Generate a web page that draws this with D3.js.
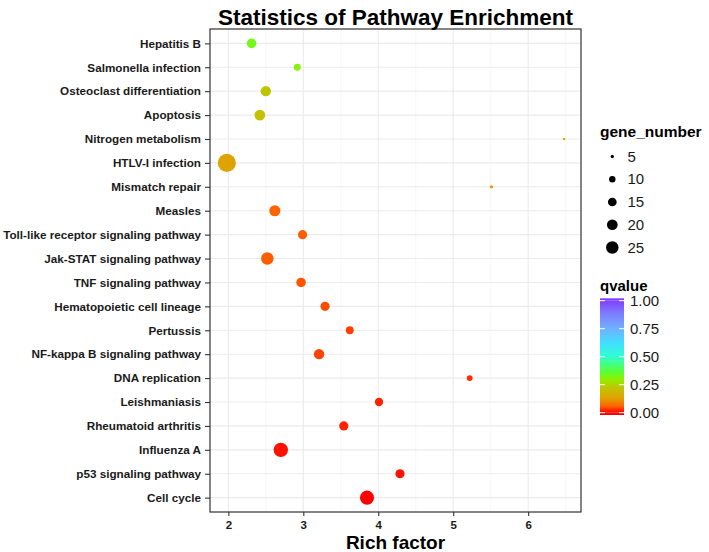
<!DOCTYPE html>
<html>
<head>
<meta charset="utf-8">
<script src="https://cdn.jsdelivr.net/npm/d3@7"></script>
<style>
  html, body { margin: 0; padding: 0; background: #fff; }
  svg { display: block; font-family: "Liberation Sans", Arial, Helvetica, sans-serif; }
</style>
</head>
<body>
<svg id="chart" width="709" height="552"></svg>
<script>
// ---- data ----
const pathways = [
  "Hepatitis B", "Salmonella infection", "Osteoclast differentiation", "Apoptosis",
  "Nitrogen metabolism", "HTLV-I infection", "Mismatch repair", "Measles",
  "Toll-like receptor signaling pathway", "Jak-STAT signaling pathway", "TNF signaling pathway",
  "Hematopoietic cell lineage", "Pertussis", "NF-kappa B signaling pathway", "DNA replication",
  "Leishmaniasis", "Rheumatoid arthritis", "Influenza A", "p53 signaling pathway", "Cell cycle"
];
const richFactor = [2.31, 2.92, 2.50, 2.42, 6.48, 1.98, 5.51, 2.62, 2.99, 2.52, 2.97,
                    3.29, 3.62, 3.21, 5.22, 4.01, 3.54, 2.70, 4.29, 3.85];
const geneNumber = [17, 11, 19, 20, 4, 45, 5, 21, 16, 25, 17, 16, 13, 19, 9, 14, 16, 31, 16, 30];
const qvalue = [0.33, 0.31, 0.22, 0.21, 0.14, 0.13, 0.12, 0.06, 0.055, 0.055, 0.05,
                0.045, 0.038, 0.04, 0.025, 0.02, 0.02, 0.01, 0.01, 0.001];
const xTicks = [2, 3, 4, 5, 6];
const sizeBreaks = [5, 10, 15, 20, 25];
const qBreaks = [0, 0.25, 0.5, 0.75, 1];

const data = pathways.map((p, i) => ({ name: p, x: richFactor[i], n: geneNumber[i], q: qvalue[i] }));

// ---- layout ----
const svg = d3.select("#chart");
const panel = { left: 210, right: 581, top: 29, bottom: 512 };
const font = "'Liberation Sans', Arial, Helvetica, sans-serif";

svg.append("rect").attr("width", 709).attr("height", 552).attr("fill", "#fff");

// scales
const ext = d3.extent(richFactor);
const pad = (ext[1] - ext[0]) * 0.05;
const x = d3.scaleLinear().domain([ext[0] - pad, ext[1] + pad]).range([panel.left, panel.right]);
const y = d3.scalePoint().domain(pathways).range([panel.top, panel.bottom]).padding(0.6);
const r = d3.scalePow().exponent(0.5).domain([4, 45]).range([1.25, 9.1]);
const colorStops = [0, 0.06, 0.13, 0.22, 0.3, 0.36, 0.5, 0.62, 0.75, 0.88, 1];
const colorVals = ["#ff0000", "#ff6400", "#dfa300", "#c0c400", "#90f000", "#5aff30",
                   "#30ffd0", "#40e0ff", "#70b0ff", "#7d80ff", "#8040ff"];
const color = d3.scaleLinear().domain(colorStops).range(colorVals).interpolate(d3.interpolateRgb);

// grid
const g = svg.append("g");
const minor = d3.range(1.5, 7, 1).filter(v => v > x.domain()[0] && v < x.domain()[1]);
g.selectAll(".minor").data(minor).join("line")
  .attr("x1", d => x(d)).attr("x2", d => x(d))
  .attr("y1", panel.top).attr("y2", panel.bottom)
  .attr("stroke", "#f2f2f2").attr("stroke-width", 0.6);
g.selectAll(".majx").data(xTicks).join("line")
  .attr("x1", d => x(d)).attr("x2", d => x(d))
  .attr("y1", panel.top).attr("y2", panel.bottom)
  .attr("stroke", "#ebebeb").attr("stroke-width", 1.1);
g.selectAll(".majy").data(pathways).join("line")
  .attr("x1", panel.left).attr("x2", panel.right)
  .attr("y1", d => y(d)).attr("y2", d => y(d))
  .attr("stroke", "#ebebeb").attr("stroke-width", 1.1);

// points
svg.append("g").selectAll("circle").data(data).join("circle")
  .attr("cx", d => x(d.x)).attr("cy", d => y(d.name))
  .attr("r", d => r(d.n))
  .attr("fill", d => color(d.q));

// panel border
svg.append("rect")
  .attr("x", panel.left).attr("y", panel.top)
  .attr("width", panel.right - panel.left).attr("height", panel.bottom - panel.top)
  .attr("fill", "none").attr("stroke", "#333").attr("stroke-width", 1.2);

// x axis
const xAxis = svg.append("g").attr("transform", `translate(0,${panel.bottom})`)
  .call(d3.axisBottom(x).tickValues(xTicks).tickSize(4).tickPadding(5).tickFormat(d3.format("d")));
xAxis.select(".domain").remove();
xAxis.selectAll(".tick line").attr("stroke", "#333").attr("stroke-width", 1.1);
xAxis.selectAll(".tick text").attr("fill", "#1a1a1a").style("font-family", font)
  .style("font-size", "11.5px").style("font-weight", "bold");

// y axis
const yAxis = svg.append("g").attr("transform", `translate(${panel.left},0)`)
  .call(d3.axisLeft(y).tickSize(5).tickPadding(4));
yAxis.select(".domain").remove();
yAxis.selectAll(".tick line").attr("stroke", "#333").attr("stroke-width", 1.1);
yAxis.selectAll(".tick text").attr("fill", "#1a1a1a").style("font-family", font)
  .style("font-size", "11.7px").style("font-weight", "bold");

// title
svg.append("text").attr("x", (panel.left + panel.right) / 2).attr("y", 25)
  .attr("text-anchor", "middle").style("font-family", font)
  .style("font-size", "22.5px").style("font-weight", "bold").attr("fill", "#000")
  .text("Statistics of Pathway Enrichment");

// x title
svg.append("text").attr("x", (panel.left + panel.right) / 2).attr("y", 549)
  .attr("text-anchor", "middle").style("font-family", font)
  .style("font-size", "19px").style("font-weight", "bold").attr("fill", "#000")
  .text("Rich factor");

// size legend
const sl = svg.append("g");
sl.append("text").attr("x", 600).attr("y", 137).style("font-family", font)
  .style("font-size", "15.5px").style("font-weight", "bold").attr("fill", "#000").text("gene_number");
sizeBreaks.forEach((b, i) => {
  const cy = 156.5 + i * 22.75;
  sl.append("circle").attr("cx", 612.3).attr("cy", cy).attr("r", r(b)).attr("fill", "#000");
  sl.append("text").attr("x", 627.5).attr("y", cy + 5.2).style("font-family", font)
    .style("font-size", "15px").attr("fill", "#1a1a1a").text(b);
});

// colour legend
const cl = svg.append("g");
cl.append("text").attr("x", 600).attr("y", 291).style("font-family", font)
  .style("font-size", "15px").style("font-weight", "bold").attr("fill", "#000").text("qvalue");
const qy = d3.scaleLinear().domain([0, 1]).range([412.7, 300.7]);
const defs = svg.append("defs");
const grad = defs.append("linearGradient").attr("id", "qgrad")
  .attr("x1", 0).attr("y1", 1).attr("x2", 0).attr("y2", 0);
d3.range(0, 1.0001, 0.02).forEach(t => {
  grad.append("stop").attr("offset", t).attr("stop-color", color(t));
});
const barTop = 298.3, barBot = 415;
const bar = cl.append("g");
bar.append("rect").attr("x", 600).attr("y", barTop).attr("width", 24).attr("height", qy(1) - barTop)
  .attr("fill", color(1));
bar.append("rect").attr("x", 600).attr("y", qy(0)).attr("width", 24).attr("height", barBot - qy(0))
  .attr("fill", color(0));
bar.append("rect").attr("x", 600).attr("y", qy(1)).attr("width", 24).attr("height", qy(0) - qy(1))
  .attr("fill", "url(#qgrad)");
qBreaks.forEach(b => {
  const yy = qy(b);
  cl.append("line").attr("x1", 600).attr("x2", 605).attr("y1", yy).attr("y2", yy)
    .attr("stroke", "#fff").attr("stroke-width", 1);
  cl.append("line").attr("x1", 619).attr("x2", 624).attr("y1", yy).attr("y2", yy)
    .attr("stroke", "#fff").attr("stroke-width", 1);
  cl.append("text").attr("x", 630).attr("y", yy + 5.3).style("font-family", font)
    .style("font-size", "15px").attr("fill", "#1a1a1a").text(d3.format(".2f")(b));
});
</script>
</body>
</html>
